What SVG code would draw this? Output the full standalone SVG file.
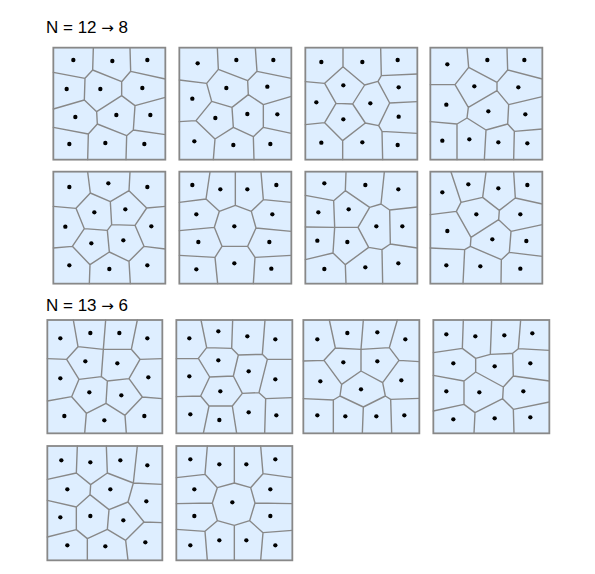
<svg xmlns="http://www.w3.org/2000/svg" width="595" height="574" viewBox="0 0 595 574">
<style>
.bg{fill:#deeeff;stroke:none}
.fr{fill:none;stroke:#888;stroke-width:5.4}
.e{fill:none;stroke:#888;stroke-width:4.2;stroke-linejoin:round;stroke-linecap:round}
.p circle{fill:#000}
.t{font-family:"Liberation Sans",Arial,sans-serif;font-size:17px;fill:#000}
.a{font-family:"DejaVu Sans",sans-serif;font-size:15px}
</style>
<rect width="595" height="574" fill="#fff"/>
<text class="t" x="46" y="33">N = 12 <tspan class="a">→</tspan> 8</text>
<text class="t" x="46" y="311">N = 13 <tspan class="a">→</tspan> 6</text>

<g id="panel-1" transform="translate(50,44) scale(0.33333)">
<rect class="bg" x="10" y="11" width="336" height="336"/>
<path class="e" d="M130 12L128 78 M240 12L242 82 M10 85L105 103 M128 78L105 103 M128 78L215 113 M242 82L215 113 M242 82L346 105 M215 113L215 155 M105 103L103 168 M103 168L10 195 M103 168L140 203 M140 203L215 155 M215 155L255 185 M255 185L346 160 M255 185L250 258 M140 203L142 240 M142 240L115 270 M115 270L10 250 M115 270L113 347 M142 240L230 275 M230 275L250 258 M250 258L346 272 M230 275L228 347"/>
<g class="p"><circle cx="70" cy="48" r="6.5"/><circle cx="187" cy="51" r="6.5"/><circle cx="292" cy="48" r="6.5"/><circle cx="50" cy="135" r="6.5"/><circle cx="151" cy="135" r="6.5"/><circle cx="277" cy="132" r="6.5"/><circle cx="76" cy="219" r="6.5"/><circle cx="199" cy="213" r="6.5"/><circle cx="301" cy="213" r="6.5"/><circle cx="58" cy="300" r="6.5"/><circle cx="166" cy="297" r="6.5"/><circle cx="283" cy="300" r="6.5"/></g>
<rect class="fr" x="10" y="11" width="336" height="336"/>
</g>

<g id="panel-2" transform="translate(176,44) scale(0.33333)">
<rect class="bg" x="10" y="11" width="336" height="336"/>
<path class="e" d="M124 12L127 76 M238 12L243 82 M127 76L92 118 M92 118L10 108 M127 76L215 110 M243 82L215 110 M243 82L346 103 M215 110L217 152 M92 118L107 172 M107 172L168 190 M168 190L217 152 M217 152L262 182 M262 182L346 157 M262 182L262 250 M262 250L346 268 M107 172L60 230 M60 230L10 233 M60 230L117 285 M117 285L112 347 M168 190L172 250 M172 250L117 285 M172 250L232 278 M232 278L262 250 M232 278L234 347"/>
<g class="p"><circle cx="65" cy="58" r="6.5"/><circle cx="181" cy="48" r="6.5"/><circle cx="292" cy="48" r="6.5"/><circle cx="49" cy="164" r="6.5"/><circle cx="151" cy="132" r="6.5"/><circle cx="274" cy="128" r="6.5"/><circle cx="118" cy="222" r="6.5"/><circle cx="214" cy="210" r="6.5"/><circle cx="304" cy="211" r="6.5"/><circle cx="55" cy="292" r="6.5"/><circle cx="172" cy="303" r="6.5"/><circle cx="283" cy="300" r="6.5"/></g>
<rect class="fr" x="10" y="11" width="336" height="336"/>
</g>

<g id="panel-3" transform="translate(302,44) scale(0.33333)">
<rect class="bg" x="10" y="11" width="336" height="336"/>
<path class="e" d="M123 12L123 68 M236 12L238 95 M123 68L68 118 M68 118L10 113 M123 68L188 123 M188 123L228 112 M228 112L238 95 M238 95L346 90 M68 118L102 178 M102 178L152 180 M152 180L188 123 M228 112L263 177 M263 177L346 173 M263 177L230 245 M230 245L190 237 M190 237L152 180 M102 178L68 236 M68 236L10 242 M68 236L122 290 M122 290L190 237 M122 290L122 347 M230 245L240 262 M240 262L346 268 M240 262L242 347"/>
<g class="p"><circle cx="58" cy="54" r="6.5"/><circle cx="181" cy="54" r="6.5"/><circle cx="287" cy="48" r="6.5"/><circle cx="43" cy="175" r="6.5"/><circle cx="124" cy="124" r="6.5"/><circle cx="205" cy="178" r="6.5"/><circle cx="290" cy="130" r="6.5"/><circle cx="124" cy="226" r="6.5"/><circle cx="290" cy="218" r="6.5"/><circle cx="58" cy="296" r="6.5"/><circle cx="181" cy="295" r="6.5"/><circle cx="287" cy="303" r="6.5"/></g>
<rect class="fr" x="10" y="11" width="336" height="336"/>
</g>

<g id="panel-4" transform="translate(427,44) scale(0.33333)">
<rect class="bg" x="10" y="11" width="336" height="336"/>
<path class="e" d="M120 12L125 70 M240 12L242 78 M125 70L84 122 M84 122L10 122 M125 70L210 115 M242 78L210 115 M242 78L346 105 M210 115L210 140 M84 122L124 190 M124 190L210 140 M210 140L245 182 M245 182L346 158 M245 182L242 240 M242 240L262 262 M262 262L346 255 M262 262L260 347 M124 190L120 222 M120 222L90 240 M90 240L10 233 M90 240L90 347 M120 222L177 258 M177 258L242 240 M177 258L172 347"/>
<g class="p"><circle cx="61" cy="61" r="6.5"/><circle cx="181" cy="48" r="6.5"/><circle cx="292" cy="48" r="6.5"/><circle cx="58" cy="182" r="6.5"/><circle cx="142" cy="127" r="6.5"/><circle cx="274" cy="130" r="6.5"/><circle cx="184" cy="202" r="6.5"/><circle cx="295" cy="211" r="6.5"/><circle cx="46" cy="290" r="6.5"/><circle cx="127" cy="286" r="6.5"/><circle cx="214" cy="295" r="6.5"/><circle cx="301" cy="298" r="6.5"/></g>
<rect class="fr" x="10" y="11" width="336" height="336"/>
</g>

<g id="panel-5" transform="translate(50,168) scale(0.33333)">
<rect class="bg" x="10" y="11" width="336" height="336"/>
<path class="e" d="M113 12L121 75 M240 12L237 68 M121 75L78 121 M78 121L10 115 M121 75L181 101 M181 101L237 68 M237 68L290 120 M290 120L346 115 M181 101L185 170 M78 121L103 182 M103 182L172 187 M172 187L185 170 M185 170L255 172 M255 172L290 120 M255 172L282 235 M282 235L346 243 M103 182L67 235 M67 235L10 240 M67 235L120 290 M120 290L118 347 M172 187L178 252 M178 252L120 290 M178 252L237 280 M237 280L282 235 M237 280L241 347"/>
<g class="p"><circle cx="58" cy="57" r="6.5"/><circle cx="175" cy="46" r="6.5"/><circle cx="292" cy="57" r="6.5"/><circle cx="133" cy="133" r="6.5"/><circle cx="226" cy="124" r="6.5"/><circle cx="46" cy="176" r="6.5"/><circle cx="304" cy="175" r="6.5"/><circle cx="124" cy="226" r="6.5"/><circle cx="220" cy="217" r="6.5"/><circle cx="58" cy="292" r="6.5"/><circle cx="178" cy="303" r="6.5"/><circle cx="292" cy="292" r="6.5"/></g>
<rect class="fr" x="10" y="11" width="336" height="336"/>
</g>

<g id="panel-6" transform="translate(176,168) scale(0.33333)">
<rect class="bg" x="10" y="11" width="336" height="336"/>
<path class="e" d="M102 12L90 93 M90 93L10 103 M178 12L178 112 M255 12L262 95 M262 95L346 103 M90 93L130 130 M130 130L178 112 M178 112L226 130 M226 130L262 95 M130 130L115 178 M115 178L10 188 M226 130L240 180 M240 180L346 190 M115 178L138 235 M138 235L215 235 M215 235L240 180 M138 235L117 268 M117 268L10 262 M117 268L125 347 M215 235L237 268 M237 268L346 262 M237 268L232 347"/>
<g class="p"><circle cx="49" cy="51" r="6.5"/><circle cx="133" cy="64" r="6.5"/><circle cx="214" cy="64" r="6.5"/><circle cx="301" cy="51" r="6.5"/><circle cx="61" cy="139" r="6.5"/><circle cx="289" cy="139" r="6.5"/><circle cx="175" cy="175" r="6.5"/><circle cx="67" cy="222" r="6.5"/><circle cx="280" cy="222" r="6.5"/><circle cx="61" cy="304" r="6.5"/><circle cx="175" cy="286" r="6.5"/><circle cx="286" cy="302" r="6.5"/></g>
<rect class="fr" x="10" y="11" width="336" height="336"/>
</g>

<g id="panel-7" transform="translate(302,168) scale(0.33333)">
<rect class="bg" x="10" y="11" width="336" height="336"/>
<path class="e" d="M132 12L130 68 M130 68L95 98 M95 98L10 82 M130 68L203 118 M247 12L237 108 M237 108L203 118 M237 108L263 126 M263 126L346 117 M95 98L98 178 M98 178L10 177 M98 178L168 178 M168 178L203 118 M168 178L200 238 M200 238L240 245 M240 245L265 228 M265 228L263 126 M265 228L346 240 M98 178L93 255 M93 255L10 275 M93 255L130 290 M130 290L200 238 M130 290L132 347 M240 245L242 347"/>
<g class="p"><circle cx="67" cy="46" r="6.5"/><circle cx="190" cy="51" r="6.5"/><circle cx="289" cy="64" r="6.5"/><circle cx="49" cy="133" r="6.5"/><circle cx="140" cy="124" r="6.5"/><circle cx="223" cy="175" r="6.5"/><circle cx="301" cy="175" r="6.5"/><circle cx="46" cy="218" r="6.5"/><circle cx="136" cy="222" r="6.5"/><circle cx="67" cy="303" r="6.5"/><circle cx="190" cy="298" r="6.5"/><circle cx="289" cy="286" r="6.5"/></g>
<rect class="fr" x="10" y="11" width="336" height="336"/>
</g>

<g id="panel-8" transform="translate(427,168) scale(0.33333)">
<rect class="bg" x="10" y="11" width="336" height="336"/>
<path class="e" d="M72 12L102 103 M102 103L88 130 M88 130L10 140 M102 103L167 88 M177 12L167 88 M167 88L217 127 M260 12L265 90 M265 90L217 127 M265 90L346 108 M217 127L215 155 M88 130L132 208 M132 208L215 155 M215 155L252 190 M252 190L346 170 M252 190L247 253 M247 253L346 265 M247 253L223 275 M223 275L130 235 M130 235L132 208 M130 235L113 245 M113 245L10 240 M113 245L108 347 M223 275L222 347"/>
<g class="p"><circle cx="46" cy="73" r="6.5"/><circle cx="124" cy="49" r="6.5"/><circle cx="214" cy="61" r="6.5"/><circle cx="301" cy="51" r="6.5"/><circle cx="148" cy="139" r="6.5"/><circle cx="280" cy="139" r="6.5"/><circle cx="61" cy="189" r="6.5"/><circle cx="196" cy="214" r="6.5"/><circle cx="298" cy="219" r="6.5"/><circle cx="58" cy="292" r="6.5"/><circle cx="160" cy="295" r="6.5"/><circle cx="280" cy="302" r="6.5"/></g>
<rect class="fr" x="10" y="11" width="336" height="336"/>
</g>

<g id="panel-9" transform="translate(44,316) scale(0.33333)">
<rect class="bg" x="10" y="12" width="345" height="340"/>
<path class="e" d="M88 12L102 92 M102 92L68 130 M68 130L10 128 M102 92L178 100 M185 12L178 100 M178 100L262 100 M280 12L262 100 M262 100L288 130 M288 130L355 128 M68 130L105 190 M105 190L172 182 M172 182L178 100 M172 182L190 195 M190 195L255 188 M255 188L288 130 M255 188L295 243 M295 243L355 248 M295 243L243 298 M243 298L186 262 M186 262L190 195 M105 190L83 242 M83 242L10 255 M83 242L127 292 M127 292L186 262 M127 292L122 352 M243 298L247 352"/>
<g class="p"><circle cx="49" cy="67" r="6.5"/><circle cx="139" cy="51" r="6.5"/><circle cx="226" cy="51" r="6.5"/><circle cx="310" cy="67" r="6.5"/><circle cx="124" cy="136" r="6.5"/><circle cx="220" cy="142" r="6.5"/><circle cx="49" cy="187" r="6.5"/><circle cx="313" cy="184" r="6.5"/><circle cx="136" cy="229" r="6.5"/><circle cx="232" cy="238" r="6.5"/><circle cx="61" cy="300" r="6.5"/><circle cx="181" cy="313" r="6.5"/><circle cx="301" cy="300" r="6.5"/></g>
<rect class="fr" x="10" y="12" width="345" height="340"/>
</g>

<g id="panel-10" transform="translate(44,316) scale(0.33333)">
<rect class="bg" x="397" y="12" width="348" height="340"/>
<path class="e" d="M471 12L488 95 M488 95L463 127 M463 127L397 128 M488 95L563 97 M566 12L563 97 M563 97L583 117 M663 12L655 115 M655 115L583 117 M655 115L670 130 M670 130L745 130 M463 127L497 183 M497 183L568 180 M568 180L583 117 M568 180L595 232 M595 232L645 230 M645 230L670 130 M645 230L665 248 M665 248L745 245 M497 183L470 240 M470 240L397 242 M470 240L495 270 M495 270L565 270 M565 270L595 232 M495 270L478 352 M565 270L578 352 M665 248L662 352"/>
<g class="p"><circle cx="436" cy="67" r="6.5"/><circle cx="523" cy="46" r="6.5"/><circle cx="610" cy="61" r="6.5"/><circle cx="694" cy="70" r="6.5"/><circle cx="523" cy="133" r="6.5"/><circle cx="614" cy="166" r="6.5"/><circle cx="436" cy="181" r="6.5"/><circle cx="694" cy="190" r="6.5"/><circle cx="529" cy="226" r="6.5"/><circle cx="614" cy="289" r="6.5"/><circle cx="439" cy="295" r="6.5"/><circle cx="526" cy="312" r="6.5"/><circle cx="697" cy="298" r="6.5"/></g>
<rect class="fr" x="397" y="12" width="348" height="340"/>
</g>

<g id="panel-11" transform="translate(300,316) scale(0.33333)">
<rect class="bg" x="10" y="12" width="348" height="340"/>
<path class="e" d="M88 12L106 96 M106 96L72 133 M72 133L10 135 M106 96L183 100 M190 12L183 100 M183 100L268 95 M292 12L268 95 M268 95L297 133 M297 133L358 137 M72 133L125 205 M125 205L183 165 M183 100L183 165 M183 165L248 200 M248 200L297 133 M248 200L256 240 M256 240L272 250 M272 250L358 247 M272 250L275 352 M256 240L190 273 M190 273L120 240 M120 240L125 205 M120 240L100 252 M100 252L10 248 M100 252L100 352 M190 273L187 352"/>
<g class="p"><circle cx="52" cy="70" r="6.5"/><circle cx="142" cy="51" r="6.5"/><circle cx="232" cy="49" r="6.5"/><circle cx="316" cy="70" r="6.5"/><circle cx="130" cy="139" r="6.5"/><circle cx="232" cy="136" r="6.5"/><circle cx="61" cy="196" r="6.5"/><circle cx="304" cy="193" r="6.5"/><circle cx="183" cy="220" r="6.5"/><circle cx="52" cy="298" r="6.5"/><circle cx="136" cy="301" r="6.5"/><circle cx="229" cy="301" r="6.5"/><circle cx="313" cy="298" r="6.5"/></g>
<rect class="fr" x="10" y="12" width="348" height="340"/>
</g>

<g id="panel-12" transform="translate(300,316) scale(0.33333)">
<rect class="bg" x="400" y="12" width="348" height="340"/>
<path class="e" d="M490 12L487 97 M487 97L400 110 M487 97L527 127 M575 12L571 115 M571 115L527 127 M662 12L655 98 M655 98L748 103 M655 98L638 112 M638 112L571 115 M638 112L640 180 M640 180L748 195 M640 180L610 213 M610 213L527 168 M527 168L527 127 M527 168L492 195 M492 195L400 178 M492 195L492 265 M492 265L400 285 M492 265L525 290 M525 290L608 248 M608 248L610 213 M608 248L640 280 M640 280L748 258 M640 280L642 352 M525 290L522 352"/>
<g class="p"><circle cx="439" cy="55" r="6.5"/><circle cx="526" cy="61" r="6.5"/><circle cx="613" cy="58" r="6.5"/><circle cx="697" cy="52" r="6.5"/><circle cx="460" cy="142" r="6.5"/><circle cx="584" cy="151" r="6.5"/><circle cx="691" cy="142" r="6.5"/><circle cx="439" cy="226" r="6.5"/><circle cx="538" cy="229" r="6.5"/><circle cx="670" cy="226" r="6.5"/><circle cx="460" cy="310" r="6.5"/><circle cx="584" cy="307" r="6.5"/><circle cx="691" cy="304" r="6.5"/></g>
<rect class="fr" x="400" y="12" width="348" height="340"/>
</g>

<g id="panel-13" transform="translate(44,442) scale(0.33333)">
<rect class="bg" x="10" y="12" width="345" height="343"/>
<path class="e" d="M100 12L97 93 M97 93L10 112 M97 93L140 128 M187 12L190 93 M190 93L140 128 M190 93L268 123 M280 12L268 123 M268 123L355 127 M140 128L138 158 M138 158L97 195 M97 195L10 175 M138 158L195 203 M268 123L252 180 M252 180L195 203 M252 180L300 240 M300 240L355 242 M300 240L245 295 M245 295L190 262 M190 262L195 203 M97 195L97 263 M97 263L10 285 M97 263L130 290 M130 290L190 262 M130 290L130 355 M245 295L252 355"/>
<g class="p"><circle cx="52" cy="55" r="6.5"/><circle cx="139" cy="61" r="6.5"/><circle cx="229" cy="55" r="6.5"/><circle cx="310" cy="70" r="6.5"/><circle cx="70" cy="142" r="6.5"/><circle cx="199" cy="142" r="6.5"/><circle cx="307" cy="178" r="6.5"/><circle cx="49" cy="226" r="6.5"/><circle cx="139" cy="222" r="6.5"/><circle cx="238" cy="235" r="6.5"/><circle cx="70" cy="310" r="6.5"/><circle cx="184" cy="313" r="6.5"/><circle cx="304" cy="301" r="6.5"/></g>
<rect class="fr" x="10" y="12" width="345" height="343"/>
</g>

<g id="panel-14" transform="translate(44,442) scale(0.33333)">
<rect class="bg" x="397" y="12" width="348" height="343"/>
<path class="e" d="M490 12L483 97 M483 97L397 107 M483 97L520 137 M571 12L571 123 M571 123L520 137 M571 123L620 137 M650 12L657 95 M657 95L620 137 M657 95L745 107 M520 137L505 183 M505 183L397 185 M620 137L633 183 M633 183L745 185 M505 183L520 236 M520 236L571 250 M571 250L617 236 M617 236L633 183 M520 236L483 268 M483 268L397 262 M483 268L490 355 M571 250L571 355 M617 236L657 272 M657 272L745 265 M657 272L650 355"/>
<g class="p"><circle cx="439" cy="52" r="6.5"/><circle cx="526" cy="67" r="6.5"/><circle cx="607" cy="67" r="6.5"/><circle cx="694" cy="52" r="6.5"/><circle cx="451" cy="142" r="6.5"/><circle cx="679" cy="142" r="6.5"/><circle cx="565" cy="181" r="6.5"/><circle cx="451" cy="222" r="6.5"/><circle cx="679" cy="222" r="6.5"/><circle cx="439" cy="310" r="6.5"/><circle cx="526" cy="295" r="6.5"/><circle cx="607" cy="295" r="6.5"/><circle cx="694" cy="310" r="6.5"/></g>
<rect class="fr" x="397" y="12" width="348" height="343"/>
</g>
</svg>
